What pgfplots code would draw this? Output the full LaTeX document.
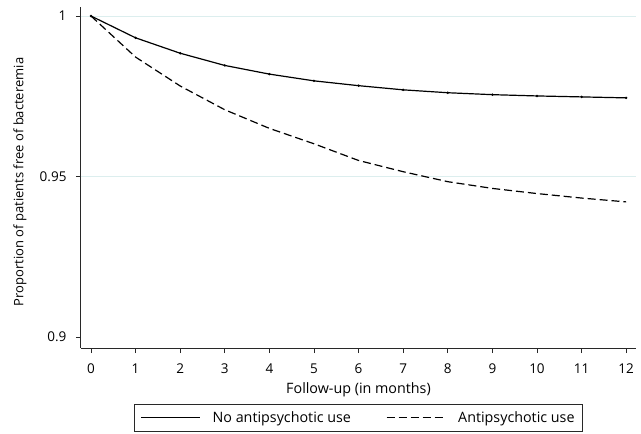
\documentclass[border=0pt]{standalone}
\usepackage{fontspec}
\setmainfont{Open Sans}
\usepackage{pgfplots}
\pgfplotsset{compat=1.18}
\definecolor{gridc}{RGB}{220,238,238}
\definecolor{axc}{RGB}{40,40,40}

\begin{document}
\fontsize{13}{15}\selectfont
\begin{tikzpicture}[x=1pt,y=1pt]
\begin{axis}[
  at={(81pt,-348pt)}, anchor=south west,
  scale only axis, width=555pt, height=341pt,
  xmin=-0.224, xmax=12.22, ymin=0.8966, ymax=1.0028,
  axis x line*=bottom, axis y line*=left,
  axis line style={-, line width=1pt, axc},
  tick align=outside, major tick length=5pt,
  tick style={line width=0.9pt, axc},
  xtick={0,...,12},
  ytick={0.9,0.95,1}, yticklabels={0.9,0.95,1},
  extra y ticks={0.95,1}, extra y tick labels={},
  extra y tick style={grid=major, major tick length=0pt, major grid style={gridc, line width=0.9pt}},
  /pgf/number format/assume math mode=true,
  font=\fontsize{13}{15}\selectfont,
  xticklabel style={yshift=-6pt, font=\fontsize{13.5}{15}\selectfont},
  yticklabel style={xshift=-5pt, font=\fontsize{13.5}{15}\selectfont},
  xlabel={Follow-up (in months)},
  ylabel={Proportion of patients free of bacteremia},
  every axis x label/.style={at={(axis description cs:0.5,-0.132)}, anchor=base, font=\fontsize{14.3}{16}\selectfont},
  every axis y label/.style={at={(axis description cs:-0.110,0.487)}, rotate=90, anchor=center, font=\fontsize{13}{15}\selectfont},
  legend columns=2,
  legend cell align=left,
  legend image code/.code={\draw[#1] (0pt,0pt) -- (59pt,0pt);},
  legend style={at={(0.5,-0.1642)}, anchor=north, draw=axc, line width=0.9pt,
    font=\fontsize{14.3}{16}\selectfont, inner xsep=6pt, inner ysep=5pt,
    /tikz/every odd column/.append style={column sep=10pt},
    /tikz/every even column/.append style={column sep=33pt}},
]
\addplot[black, line width=1.2pt, mark=*, mark size=0.5pt] coordinates {
(0,1.0000) (1,0.9932) (2,0.9884) (3,0.9846) (4,0.9819) (5,0.9798) (6,0.9783)
(7,0.9770) (8,0.9761) (9,0.9755) (10,0.9751) (11,0.9748) (12,0.9745)
};
\addlegendentry{No antipsychotic use}
\addplot[black, line width=1.2pt, dash pattern=on 8pt off 4pt] coordinates {
(0,1.0000) (1,0.9872) (2,0.9782) (3,0.9708) (4,0.9650) (5,0.9602) (6,0.9550)
(7,0.9515) (8,0.9484) (9,0.9463) (10,0.9447) (11,0.9433) (12,0.9421)
};
\addlegendentry{Antipsychotic use\hspace{24pt}}
\end{axis}
\pgfresetboundingbox
\path[use as bounding box] (0,0) rectangle (641,-434);
\end{tikzpicture}
\end{document}
